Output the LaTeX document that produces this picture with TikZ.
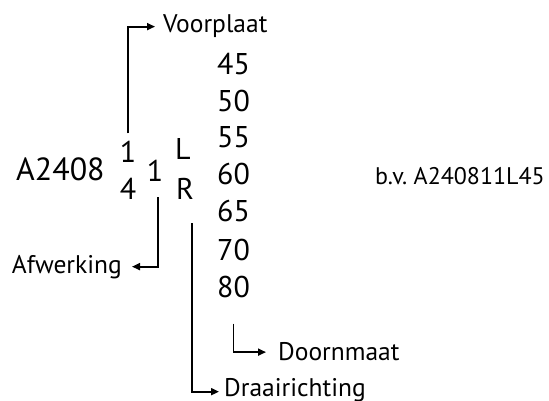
\documentclass[tikz,border=0pt]{standalone}
\usepackage{fontspec}
\setmainfont{PT Sans}
\usetikzlibrary{arrows.meta}
\begin{document}
\begin{tikzpicture}[x=1pt,y=-1pt,
  lbl/.style={inner sep=0pt,font=\fontsize{25.5}{25.5}\selectfont},
  big/.style={inner sep=0pt,font=\fontsize{30}{30}\selectfont},
  num/.style={inner sep=0pt,anchor=base west,font=\fontsize{30}{30}\selectfont},
  arr/.style={line width=1.8pt,-{Triangle[length=8pt,width=7pt]}}]
\useasboundingbox (0,0) rectangle (549,401);
% main code
\node[big,anchor=base west,font=\fontsize{32}{32}\selectfont] (code) at (16,181) {A2408};
\node[big,anchor=base] (oa) at (128,163) {1};
\node[big,anchor=base] (ob) at (128,200) {4};
\node[big,anchor=base] (m) at (155,182) {1};
\node[big,anchor=base] (l) at (183,160) {L};
\node[big,anchor=base] (r) at (185,200) {R};
% numbers
\node[num] (n45) at (217,75) {45};
\node[num] (n50) at (217,112) {50};
\node[num] (n55) at (217,148) {55};
\node[num] (n60) at (217,185) {60};
\node[num] (n65) at (217,222) {65};
\node[num] (n70) at (217,260) {70};
\node[num] (n80) at (217,297) {80};
% labels
\node[lbl,anchor=base west] (voor) at (163,33) {Voorplaat};
\node[lbl,anchor=base east] (afw) at (122,273) {Afwerking};
\node[lbl,anchor=base west] (doorn) at (278,360) {Doornmaat};
\node[lbl,anchor=base west] (draai) at (224,396) {Draairichting};
\node[lbl,anchor=base east,font=\fontsize{24}{24}\selectfont] (bv) at (545,185) {b.v.\ A240811L45};
% connectors
\draw[arr] ([yshift=8pt]oa.north) |- ([xshift=-8pt]voor.west);
\draw[arr] ([xshift=3pt,yshift=-15pt]m.south) |- ([xshift=10pt]afw.east);
\draw[arr] ([xshift=7pt,yshift=-23pt]r.south) |- ([xshift=-5pt,yshift=-2pt]draai.west);
\draw[arr] ([yshift=-26pt]n80.south) |- ([xshift=-12pt,yshift=-1pt]doorn.west);
\end{tikzpicture}
\end{document}
